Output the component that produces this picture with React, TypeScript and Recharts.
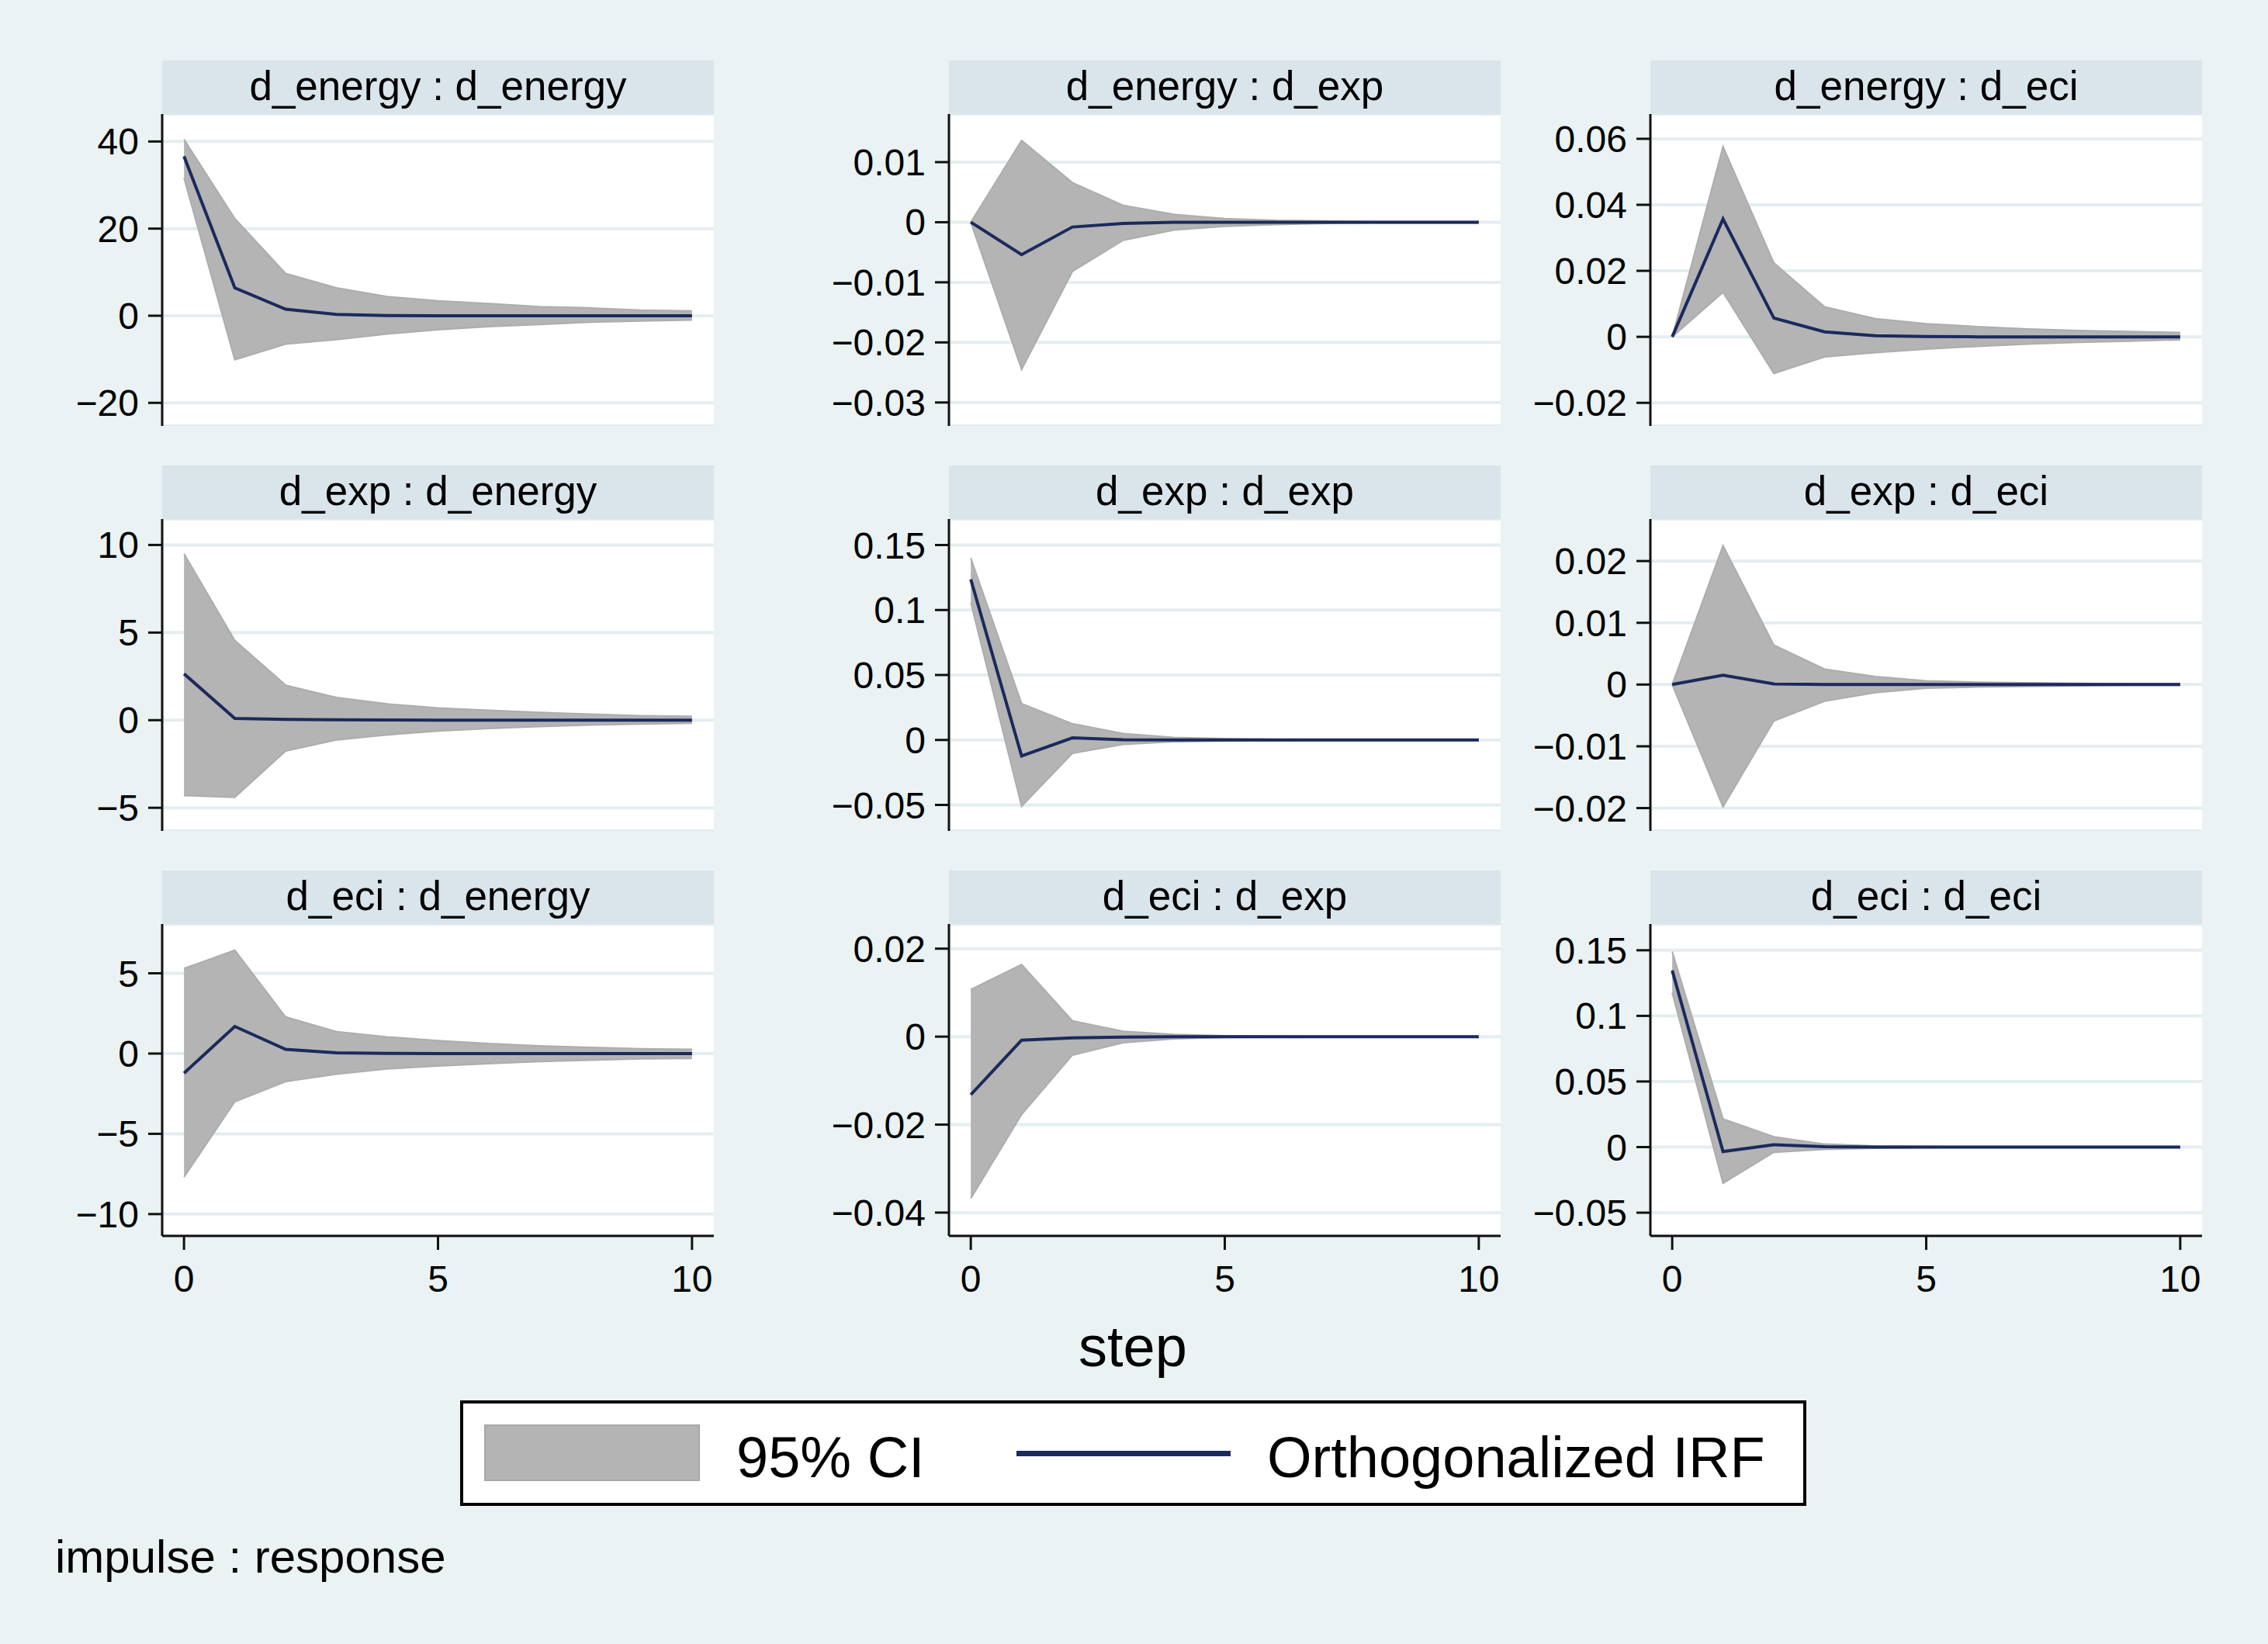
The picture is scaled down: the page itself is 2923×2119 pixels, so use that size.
import { ComposedChart, Area, Line, XAxis, YAxis, CartesianGrid } from "recharts";

const steps = [0, 1, 2, 3, 4, 5, 6, 7, 8, 9, 10];
const stepTicks = [0, 5, 10];

// impulse d_energy
const eeIrf = [36.6, 6.4, 1.5, 0.3, 0.05, 0, 0, 0, 0, 0, 0];
const eeLo = [31.6, -10.1, -6.5, -5.5, -4.2, -3.2, -2.5, -2.0, -1.5, -1.2, -1.0];
const eeHi = [40.5, 22.3, 9.7, 6.4, 4.4, 3.4, 2.8, 2.1, 1.8, 1.3, 1.1];

const exIrf = [0, -0.0054, -0.0008, -0.0002, 0, 0, 0, 0, 0, 0, 0];
const exLo = [0, -0.0245, -0.0082, -0.003, -0.0013, -0.0007, -0.0004, -0.0002, -0.0001, -0.0001, -0.0001];
const exHi = [0, 0.0136, 0.0066, 0.0028, 0.0013, 0.0006, 0.0003, 0.0002, 0.0001, 0.0001, 0.0001];

const ecIrf = [0, 0.0357, 0.0057, 0.0015, 0.0003, 0.0001, 0, 0, 0, 0, 0];
const ecLo = [0, 0.0135, -0.0111, -0.0061, -0.0048, -0.0037, -0.0029, -0.0022, -0.0017, -0.0013, -0.0009];
const ecHi = [0, 0.0576, 0.0224, 0.0091, 0.0055, 0.004, 0.0031, 0.0024, 0.0019, 0.0016, 0.0013];

// impulse d_exp
const xeIrf = [2.65, 0.1, 0.05, 0.02, 0.01, 0, 0, 0, 0, 0, 0];
const xeLo = [-4.3, -4.4, -1.76, -1.13, -0.84, -0.62, -0.47, -0.36, -0.28, -0.22, -0.18];
const xeHi = [9.5, 4.55, 2.0, 1.3, 0.93, 0.7, 0.56, 0.44, 0.34, 0.26, 0.22];

const xxIrf = [0.1236, -0.0123, 0.0016, 0.0002, 0, 0, 0, 0, 0, 0, 0];
const xxLo = [0.1057, -0.051, -0.0103, -0.0034, -0.0014, -0.0008, -0.0004, -0.0002, -0.0001, -0.0001, -0.0001];
const xxHi = [0.14, 0.028, 0.0125, 0.005, 0.002, 0.001, 0.0005, 0.0003, 0.0002, 0.0001, 0.0001];

const xcIrf = [0, 0.0015, 0.0001, 0, 0, 0, 0, 0, 0, 0, 0];
const xcLo = [0, -0.0198, -0.0059, -0.0027, -0.0013, -0.0006, -0.0004, -0.0003, -0.0002, -0.0001, -0.0001];
const xcHi = [0, 0.0225, 0.0064, 0.0025, 0.0013, 0.0006, 0.0004, 0.0003, 0.0002, 0.0001, 0.0001];

// impulse d_eci
const ceIrf = [-1.22, 1.69, 0.26, 0.05, 0.01, 0, 0, 0, 0, 0, 0];
const ceLo = [-7.7, -3.0, -1.74, -1.28, -0.96, -0.78, -0.63, -0.5, -0.41, -0.33, -0.3];
const ceHi = [5.3, 6.44, 2.28, 1.37, 1.04, 0.81, 0.63, 0.48, 0.39, 0.3, 0.26];

const cxIrf = [-0.0132, -0.0008, -0.0003, -0.0001, 0, 0, 0, 0, 0, 0, 0];
const cxLo = [-0.0368, -0.0177, -0.0042, -0.0014, -0.0005, -0.0002, -0.0001, 0, 0, 0, 0];
const cxHi = [0.0107, 0.0164, 0.0036, 0.0012, 0.0005, 0.0002, 0.0001, 0, 0, 0, 0];

const ccIrf = [0.1346, -0.0034, 0.0018, 0.0003, 0, 0, 0, 0, 0, 0, 0];
const ccLo = [0.1176, -0.0276, -0.004, -0.0018, -0.0009, -0.0004, -0.0002, -0.0001, 0, 0, 0];
const ccHi = [0.149, 0.0215, 0.0079, 0.0023, 0.0009, 0.0004, 0.0002, 0.0001, 0, 0, 0];

const panels = [
  { title: "d_energy : d_energy", irf: eeIrf, lo: eeLo, hi: eeHi, ticks: [-20, 0, 20, 40], domain: [-25.3, 46.3] },
  { title: "d_energy : d_exp", irf: exIrf, lo: exLo, hi: exHi, ticks: [-0.03, -0.02, -0.01, 0, 0.01], domain: [-0.0339, 0.018] },
  { title: "d_energy : d_eci", irf: ecIrf, lo: ecLo, hi: ecHi, ticks: [-0.02, 0, 0.02, 0.04, 0.06], domain: [-0.027, 0.0675] },
  { title: "d_exp : d_energy", irf: xeIrf, lo: xeLo, hi: xeHi, ticks: [-5, 0, 5, 10], domain: [-6.32, 11.48] },
  { title: "d_exp : d_exp", irf: xxIrf, lo: xxLo, hi: xxHi, ticks: [-0.05, 0, 0.05, 0.1, 0.15], domain: [-0.07, 0.17] },
  { title: "d_exp : d_eci", irf: xcIrf, lo: xcLo, hi: xcHi, ticks: [-0.02, -0.01, 0, 0.01, 0.02], domain: [-0.0237, 0.0268] },
  { title: "d_eci : d_energy", irf: ceIrf, lo: ceLo, hi: ceHi, ticks: [-10, -5, 0, 5], domain: [-11.36, 8.07] },
  { title: "d_eci : d_exp", irf: cxIrf, lo: cxLo, hi: cxHi, ticks: [-0.04, -0.02, 0, 0.02], domain: [-0.0453, 0.0256] },
  { title: "d_eci : d_eci", irf: ccIrf, lo: ccLo, hi: ccHi, ticks: [-0.05, 0, 0.05, 0.1, 0.15], domain: [-0.0677, 0.17] },
];

const FONT = "'Liberation Sans', Arial, Helvetica, sans-serif";
const BG = "#EAF2F3";
const HEADER_BG = "#D9E5EB";
const BAND = "#B4B4B4";
const IRF = "#1B2A5C";

const colLeft = [209, 1223, 2127];
const rowTop = [78, 600, 1122];
const PW = 711;
const HH = 69;
const PH = 402;
const YW = 180;
const XH = 90;

const fmt = (v: number) => String(v).replace("-", "\u2212");

const Panel = ({ p, row, col }: { p: (typeof panels)[number]; row: number; col: number }) => {
  const data = steps.map((s, i) => ({ step: s, irf: p.irf[i], band: [p.lo[i], p.hi[i]] }));
  const bottom = row === 2;
  const left = colLeft[col];
  const top = rowTop[row];
  return (
    <>
      <div
        style={{
          position: "absolute", left, top, width: PW, height: HH, background: HEADER_BG,
          fontSize: 53, lineHeight: `${HH - 4}px`, textAlign: "center", color: "#000", whiteSpace: "nowrap",
        }}
      >
        {p.title}
      </div>
      <div style={{ position: "absolute", left: left - YW, top: top + HH }}>
        <ComposedChart
          width={YW + PW}
          height={PH + (bottom ? XH : 0)}
          data={data}
          margin={{ top: 0, right: 0, bottom: 0, left: 0 }}
        >
          <CartesianGrid vertical={false} stroke="#E4EDF0" strokeWidth={4} fill="#FFFFFF" fillOpacity={1} />
          <XAxis
            type="number" dataKey="step" domain={[-0.43, 10.43]} ticks={stepTicks} allowDataOverflow
            hide={!bottom} height={XH} stroke="#111" strokeWidth={3} tickSize={18} tickMargin={20}
            tick={{ fill: "#000", fontSize: 48 }}
          />
          <YAxis
            type="number" domain={p.domain} ticks={p.ticks} allowDataOverflow width={YW}
            stroke="#111" strokeWidth={3} tickSize={18} tickMargin={12} tickFormatter={fmt}
            tick={{ fill: "#000", fontSize: 48 }} interval={0}
          />
          <Area
            type="linear" dataKey="band" fill={BAND} fillOpacity={1} stroke="#ADADAD" strokeWidth={2}
            isAnimationActive={false} dot={false} activeDot={false}
          />
          <Line
            type="linear" dataKey="irf" stroke={IRF} strokeWidth={4} dot={false} activeDot={false}
            isAnimationActive={false}
          />
        </ComposedChart>
      </div>
    </>
  );
};

const App = () => {
  return (
    <div
      style={{
        position: "absolute", left: 0, top: 0, width: 2923, height: 2119, background: BG,
        fontFamily: FONT, color: "#000", overflow: "hidden",
      }}
    >
      {panels.map((p, i) => (
        <Panel key={p.title} p={p} row={Math.floor(i / 3)} col={i % 3} />
      ))}

      <div
        style={{
          position: "absolute", left: 1260, width: 400, top: 1699, fontSize: 74, lineHeight: "74px",
          textAlign: "center", whiteSpace: "nowrap",
        }}
      >
        step
      </div>

      <div
        style={{
          position: "absolute", left: 593, top: 1805, width: 1735, height: 136, boxSizing: "border-box",
          border: "4px solid #000", background: "#FFFFFF",
        }}
      >
        <div
          style={{
            position: "absolute", left: 27, top: 27, width: 278, height: 73, boxSizing: "border-box",
            background: BAND, border: "2px solid #A6A6A6",
          }}
        />
        <div style={{ position: "absolute", left: 352, top: 33, fontSize: 74, lineHeight: "74px", whiteSpace: "nowrap" }}>
          95% CI
        </div>
        <div style={{ position: "absolute", left: 713, top: 61, width: 276, height: 7, background: IRF }} />
        <div style={{ position: "absolute", left: 1036, top: 33, fontSize: 74, lineHeight: "74px", whiteSpace: "nowrap" }}>
          Orthogonalized IRF
        </div>
      </div>

      <div style={{ position: "absolute", left: 71, top: 1977, fontSize: 60, lineHeight: "60px", whiteSpace: "nowrap" }}>
        impulse : response
      </div>
    </div>
  );
};

export default App;
